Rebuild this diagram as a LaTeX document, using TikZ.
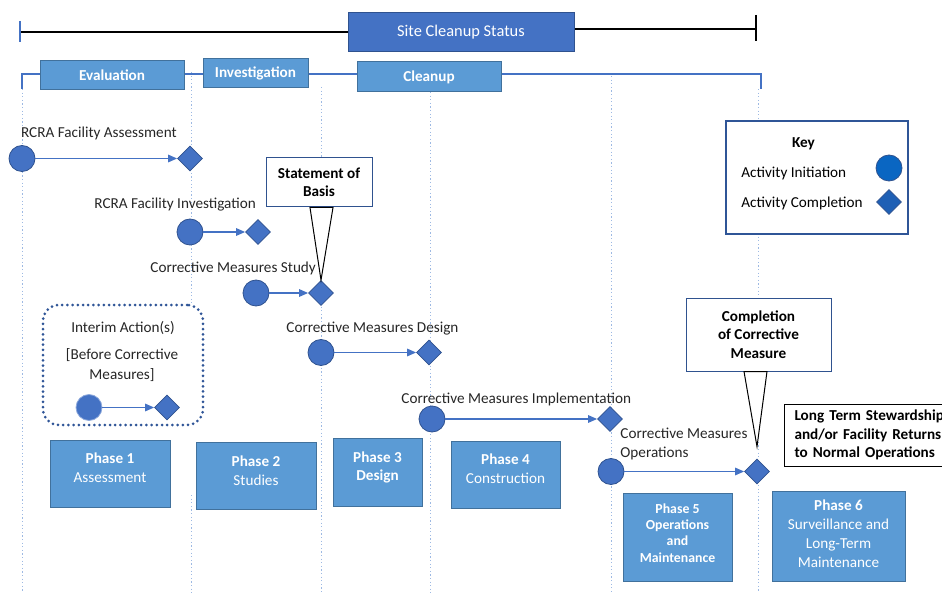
\documentclass[tikz,border=0pt]{standalone}
\usepackage{fontspec}
\setmainfont{Carlito}
\usetikzlibrary{shapes.geometric,arrows.meta,calc}
\definecolor{accent}{HTML}{4472C4}
\definecolor{accentdark}{HTML}{2F528F}
\definecolor{phasefill}{HTML}{5B9BD5}
\definecolor{phaseedge}{HTML}{41719C}
\definecolor{gridblue}{HTML}{9DB9E3}
\definecolor{keyblue}{HTML}{0A66C2}
\definecolor{keydiam}{HTML}{1F60B5}
\definecolor{dotedge}{HTML}{2F5597}

\begin{document}
\begin{tikzpicture}[x=0.5pt,y=-0.5pt,
  font=\fontsize{7.6}{9.5}\selectfont,
  gridline/.style={gridblue, line width=0.4pt, dash pattern=on 0.6pt off 1.2pt},
  startdot/.style={circle, fill=accent, draw=accentdark, line width=0.4pt, minimum size=13pt, inner sep=0pt},
  enddot/.style={diamond, fill=accent, draw=accentdark, line width=0.4pt, minimum width=12.5pt, minimum height=12.5pt, inner sep=0pt, aspect=1},
  flow/.style={accent, line width=0.6pt, -{Triangle[length=4.5pt,width=3.8pt]}},
  actlabel/.style={anchor=base west, inner sep=0pt, text=black!85},
  stagebox/.style={rectangle, fill=phasefill, draw=phaseedge, line width=0.5pt, text=white, font=\fontsize{7.6}{9.5}\selectfont\bfseries, inner sep=0pt},
  phasebox/.style={rectangle, fill=phasefill, draw=phaseedge, line width=0.5pt, inner sep=0pt},
  phasetext/.style={text=white, align=center, inner sep=0pt, font=\fontsize{7.6}{9.5}\selectfont},
  notebox/.style={rectangle, fill=white, draw=accentdark, line width=0.5pt, align=center, font=\fontsize{7.6}{9.2}\selectfont\bfseries, inner sep=0pt},
  pointer/.style={fill=white, draw=black, line width=0.5pt, line join=miter},
]
\useasboundingbox (0,0) rectangle (942,593);
\clip (0,0) rectangle (942,593);

% vertical guide lines
\draw[gridline] (22,89) -- (22,593);
\draw[gridline] (191,72) -- (191,303);
\draw[gridline] (191,495) -- (191,593);
\draw[gridline] (321,87) -- (321,593);
\draw[gridline] (430,92) -- (430,593);
\draw[gridline] (611,76) -- (611,593);
\draw[gridline] (758,89) -- (758,593);

% overall status bar
\node[rectangle, fill=accent, draw=accentdark, line width=0.5pt, text=white, minimum width=113pt, minimum height=19.5pt, inner sep=0pt, font=\fontsize{8.2}{10}\selectfont] (status) at (461,32.5) {Site Cleanup Status};
\coordinate (tl) at (20,32);
\coordinate (tr) at (756,29);
\draw[line width=1.2pt] (tl) -- (tl -| status.west);
\draw[line width=1.2pt] (status.east |- tr) -- (tr);
\draw[accent, line width=1.2pt] (20,21) -- (20,42);
\draw[line width=1.2pt] (756,15) -- (756,41);

% stage bar
\coordinate (sl) at (22,74);
\coordinate (sr) at (761,74);
\draw[accent, line width=1.2pt] (22,89) -- (sl) -- (sr) -- (761,89);
\node[stagebox, minimum width=72pt, minimum height=14.5pt] (evaluation) at (112,75.5) {Evaluation};
\node[stagebox, minimum width=52.5pt, minimum height=14.5pt] (investigation) at (255.5,73.5) {Investigation};
\node[stagebox, minimum width=72pt, minimum height=15pt] (cleanup) at (429,77) {Cleanup};

% activities
\node[actlabel] (rfa-l) at (20.7,138) {RCRA Facility Assessment};
\node[startdot] (rfa-s) at (22,158.5) {};
\node[enddot] (rfa-e) at (190,158.5) {};
\draw[flow] (rfa-s) -- (rfa-e);

\node[actlabel] (rfi-l) at (94,209) {RCRA Facility Investigation};
\node[startdot] (rfi-s) at (190,232) {};
\node[enddot] (rfi-e) at (258,232) {};
\draw[flow] (rfi-s) -- (rfi-e);

\node[actlabel] (cms-l) at (150,272) {Corrective Measures Study};
\node[startdot] (cms-s) at (256,293) {};
\node[enddot] (cms-e) at (321,293) {};
\draw[flow] (cms-s) -- (cms-e);

\node[actlabel] (cmd-l) at (286,332) {Corrective Measures Design};
\node[startdot] (cmd-s) at (321,352.5) {};
\node[enddot] (cmd-e) at (429,352.5) {};
\draw[flow] (cmd-s) -- (cmd-e);

\node[actlabel] (cmi-l) at (401,403) {Corrective Measures Implementation};
\node[startdot] (cmi-s) at (432,419) {};
\node[enddot] (cmi-e) at (610,419) {};
\draw[flow] (cmi-s) -- (cmi-e);

\node[actlabel, align=left] (cmo-l) at (620,457) {Corrective Measures\\Operations};
\node[startdot] (cmo-s) at (611,471.5) {};
\node[enddot] (cmo-e) at (757,471.5) {};
\draw[flow] (cmo-s) -- (cmo-e);

% interim actions
\node[rectangle, rounded corners=8pt, draw=dotedge, line width=1.5pt, line cap=round, dash pattern=on 0pt off 2.6pt, minimum width=80pt, minimum height=60pt] (interim) at (123,365) {};
\node[anchor=base, inner sep=0pt, text=black!85] (interim-t) at (123,332) {Interim Action(s)};
\node[anchor=base, inner sep=0pt, text=black!85, align=center] (interim-n) at (122,379) {[Before Corrective\\Measures]};
\node[startdot, draw=accent!60] (ia-s) at (89,407.5) {};
\node[enddot] (ia-e) at (167,407.5) {};
\draw[flow] (ia-s) -- (ia-e);

% milestone callouts
\node[notebox, minimum width=53pt, minimum height=24.5pt] (sob) at (319,182.5) {Statement of\\Basis};
\draw[pointer] ($(sob.south)+(-9,0)$) -- (cms-e.north) -- ($(sob.south)+(14,0)$) -- cycle;

\node[notebox, minimum width=72.5pt, minimum height=36.5pt] (ccm) at (758.5,334.5) {Completion\\of Corrective\\Measure};
\coordinate (ccm-tip) at ($(cmo-e.north)+(0,-12)$);
\draw[pointer] ($(ccm.south)+(-14.5,0)$) -- (ccm-tip) -- ($(ccm.south)+(8.5,0)$) -- cycle;

\node[rectangle, draw=black, fill=white, line width=0.5pt, anchor=west, text width=76pt, inner xsep=5pt, inner ysep=0pt, minimum height=31pt, align=left, font=\fontsize{7.6}{9.25}\selectfont\bfseries] (lts) at (784,435) {Long Term Stewardship\\and/or Facility Returns\\to Normal Operations};

% key
\node[rectangle, draw=dotedge, fill=white, line width=0.6pt, minimum width=91pt, minimum height=56.5pt, inner sep=0pt] (key) at (817,177.5) {};
\node[anchor=base, inner sep=0pt, font=\fontsize{7.6}{9.5}\selectfont\bfseries] (key-t) at (803.5,148) {Key};
\node[anchor=base west, inner sep=0pt] (key-a) at (741,178) {Activity Initiation};
\node[anchor=base west, inner sep=0pt] (key-b) at (741,208) {Activity Completion};
\node[circle, fill=keyblue, draw=accentdark, line width=0.4pt, minimum size=13pt, inner sep=0pt] (key-c) at (889,168) {};
\node[diamond, fill=keydiam, draw=accentdark, line width=0.4pt, minimum width=12.5pt, minimum height=12.5pt, inner sep=0pt, aspect=1] (key-d) at (889,202) {};

% phases
\node[phasebox, minimum width=60pt, minimum height=33.5pt,
  label={[phasetext, yshift=3pt]center:{\textbf{Phase 1}\\Assessment}}] (p1) at (110,473.5) {};
\node[phasebox, minimum width=60pt, minimum height=33.5pt,
  label={[phasetext, yshift=2.5pt]center:{\textbf{Phase 2}\\Studies}}] (p2) at (256,475.5) {};
\node[phasebox, minimum width=44.5pt, minimum height=34pt,
  label={[phasetext, yshift=2.5pt, font=\fontsize{7.6}{9}\selectfont\bfseries]center:{Phase 3\\Design}}] (p3) at (377.5,472) {};
\node[phasebox, minimum width=54.5pt, minimum height=33.5pt,
  label={[phasetext, yshift=3pt]center:{\textbf{Phase 4}\\Construction}}] (p4) at (505.5,474.5) {};
\node[phasebox, minimum width=54.5pt, minimum height=44pt,
  label={[phasetext, yshift=2pt, font=\fontsize{6.9}{8.2}\selectfont\bfseries]center:{Phase 5\\Operations\\and\\Maintenance}}] (p5) at (677.5,537) {};
\node[phasebox, minimum width=66.5pt, minimum height=45pt,
  label={[phasetext, yshift=1pt]center:{\textbf{Phase 6}\\Surveillance and\\Long-Term\\Maintenance}}] (p6) at (838.5,536) {};
\end{tikzpicture}
\end{document}
